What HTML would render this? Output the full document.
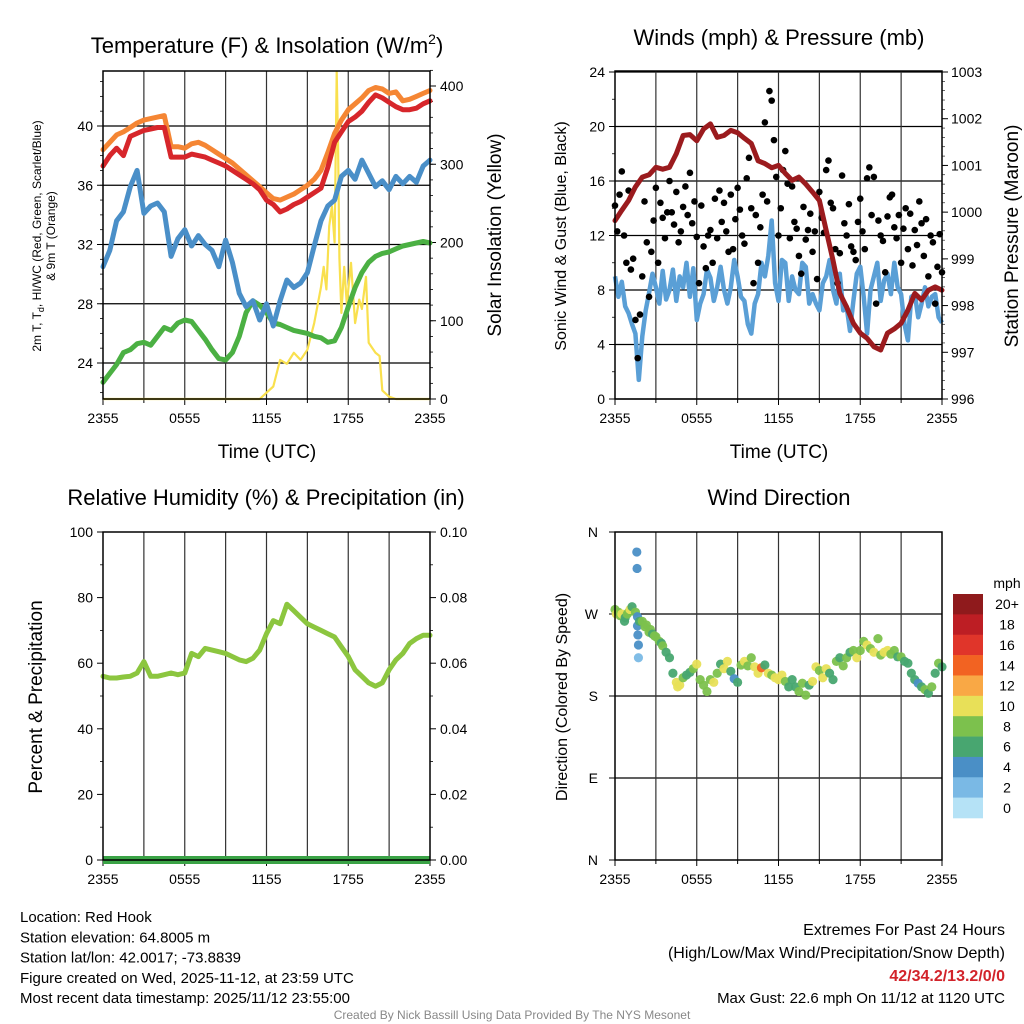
<!DOCTYPE html>
<html><head><meta charset="utf-8"><style>
body{margin:0;background:#fff}
svg{display:block;font-family:"Liberation Sans",Arial,sans-serif}
</style></head><body>
<svg id="c" width="1024" height="1024" viewBox="0 0 1024 1024" xmlns="http://www.w3.org/2000/svg">
<rect width="1024" height="1024" fill="#fff"/>
</svg>
<script>
// ---------- data ----------
const xTickLabels = ["2355","0555","1155","1755","2355"];
const tempTicks = [24,28,32,36,40];
const solarTicks = [0,100,200,300,400];
const tempOrange = [38.4,38.9,39.4,39.6,39.9,40.2,40.4,40.5,40.6,40.7,38.6,38.6,38.5,38.8,38.9,38.7,38.4,38.1,37.8,37.5,37.1,36.7,36.3,35.9,35.5,35.1,35.0,35.2,35.4,35.7,36.0,36.4,37.0,38.2,39.5,40.4,41.1,41.5,41.9,42.4,42.6,42.5,42.2,42.3,41.7,41.8,42.0,42.2,42.4];
const tempRed = [37.3,38.0,38.5,38.0,39.3,39.5,39.7,39.8,39.9,39.9,37.9,37.9,37.9,38.1,38.0,37.9,37.7,37.5,37.3,37.0,36.7,36.4,36.1,35.7,35.0,34.7,34.2,34.4,34.7,34.9,35.2,35.5,35.8,37.2,38.9,39.6,40.3,40.6,41.0,41.6,42.1,41.9,41.6,41.3,41.1,41.1,41.2,41.5,41.7];
const tempBlue = [30.5,31.6,33.6,34.2,35.9,37.0,34.1,34.6,34.8,34.2,31.2,32.4,33.0,31.9,32.6,32.0,31.6,30.5,32.3,30.8,28.7,27.8,28.2,26.9,28.0,26.5,28.2,29.6,29.1,29.4,30.1,31.9,33.6,34.6,35.0,36.6,37.0,36.4,37.7,36.8,35.9,36.3,35.7,36.6,36.1,36.6,36.2,37.3,37.7];
const tempGreen = [22.7,23.3,23.9,24.7,24.9,25.3,25.4,25.2,25.8,26.4,26.2,26.7,26.9,26.8,26.2,25.6,24.9,24.3,24.2,24.7,25.8,27.4,28.2,27.9,27.4,26.7,26.6,26.4,26.2,26.1,26.0,25.8,25.7,25.4,25.5,26.4,27.8,29.1,30.1,30.8,31.2,31.4,31.5,31.7,31.9,32.0,32.1,32.2,32.1];
const solarHours = [0,11.5,12,12.5,13,13.5,14,14.5,15,15.5,16,16.2,16.4,16.6,16.8,17,17.15,17.25,17.35,17.5,17.7,17.9,18,18.2,18.5,18.8,19,19.3,19.5,20,20.3,20.5,21,21.5,24];
const solarValues = [0,0,8,16,50,45,59,50,63,97,143,169,140,221,246,200,418,330,180,110,169,120,140,174,97,127,115,156,72,59,55,11,3,0,0];

const windTicks = [0,4,8,12,16,20,24];
const presTicks = [996,997,998,999,1000,1001,1002,1003];
const pressure = [999.82,1000.04,1000.25,1000.54,1000.75,1000.8,1000.96,1000.92,1000.96,1001.25,1001.64,1001.66,1001.53,1001.78,1001.89,1001.6,1001.64,1001.75,1001.7,1001.58,1001.47,1001.1,1001.04,1000.95,1001.0,1000.83,1000.68,1000.75,1000.6,1000.43,1000.25,999.61,998.97,998.26,997.97,997.62,997.41,997.3,997.12,997.05,997.41,997.5,997.62,997.9,998.26,998.12,998.33,998.4,998.33];
const windSpeed = [9.0,7.5,8.6,6.8,6.3,5.5,4.8,1.4,4.6,6.5,7.8,9.2,8.2,7.0,9.4,7.3,8.0,9.5,7.2,9.0,8.2,10.0,7.5,9.6,5.8,7.0,7.7,9.5,8.9,7.2,8.2,9.7,8.0,7.0,8.2,10.2,9.0,7.5,7.2,5.5,4.8,7.0,7.7,10.0,9.0,10.5,13.1,8.5,7.2,10.2,10.0,7.2,9.0,8.0,7.7,10.0,9.7,7.0,7.7,7.0,6.5,8.5,9.0,10.2,8.0,7.0,9.2,6.5,6.8,5.0,7.2,9.2,9.7,7.5,4.8,8.0,9.0,10.0,7.2,8.7,9.2,7.7,10.0,8.2,7.7,5.5,4.3,7.5,7.7,6.0,7.0,8.2,6.8,7.5,7.7,6.0,5.6];
const windGust = [14.2,12.3,15.0,16.7,12.0,10.0, 15.3,9.5,10.3,5.8,3.0,6.2, 9.0,14.5,11.5,7.5,10.8,13.1, 15.5,10.0,14.4,13.3,11.8,13.7, 16.0,13.7,12.8,15.2,11.5,12.3, 14.1,15.6,13.5,16.6,12.9,14.5, 11.9,8.5,14.2,11.2,9.6,12.0, 12.4,10.0,14.7,11.8,15.3,13.0, 14.4,12.3,10.8,15.0,11.0,13.2, 15.5,13.9,12.0,11.4,16.2,17.7, 14.0,8.5,13.5,10.0,12.6,15.0, 20.3,14.5,22.6,21.9,19.0,16.3, 12.0,14.0,16.8,18.2,15.8,11.8, 15.6,13.0,12.5,10.5,9.2,14.1, 11.7,12.4,13.6,10.8,12.3,8.8, 15.2,13.3,12.2,16.8,17.5,14.4, 14.0,11.0,8.5,10.7,16.4,12.9, 12.0,14.3,11.2,10.8,10.2,13.0, 14.7,12.3,11.0,16.2,17.0,13.5, 16.3,7.0,13.1,12.0,11.6,9.3, 13.4,14.8,15.0,12.6,11.8,13.5, 10.0,12.5,14.0,11.0,13.6,9.8, 12.4,11.3,14.5,12.9,10.5,13.2, 9.0,12.0,11.5,7.0,9.7,12.1, 9.3];

const rhTicks = [0,20,40,60,80,100];
const precipTicks = ["0.00","0.02","0.04","0.06","0.08","0.10"];
const rhValues = [56,55.5,55.5,55.8,56,57,60.5,56,56,56.5,57,56.5,57,63,62,64.5,64,63.5,63,62,61,60.5,61.5,64,69,73,72,78,76,74,72,71,70,69,68,65,62,58,56,54,53,54,58,61,63,66,67.5,68.5,68.5];
const precipValues = [0,0,0,0,0,0,0,0,0,0,0,0,0];

const dirLabels = ["N","E","S","W","N"];
const dirHours = [0,0.1,0.25,0.4,0.5,0.7,0.75,0.9,1.0,1.1,1.25,1.5,1.6,1.62,1.65,1.65,1.68,1.72,1.72,1.8,2.0,2.2,2.3,2.5,2.6,2.75,2.9,3.0,3.25,3.4,3.5,3.75,4.0,4.25,4.5,4.6,4.75,5.0,5.25,5.5,5.75,6.0,6.25,6.5,6.75,7.0,7.25,7.5,7.75,8.0,8.25,8.5,8.75,9.0,9.25,9.5,9.75,10.0,10.25,10.5,10.75,11.0,11.25,11.5,11.75,12.0,12.25,12.5,12.75,13.0,13.25,13.5,13.75,14.0,14.25,14.5,14.75,15.0,15.25,15.5,15.75,16.0,16.25,16.5,16.75,17.0,17.25,17.5,17.75,18.0,18.25,18.5,18.75,19.0,19.3,19.5,19.75,20.0,20.25,20.5,20.75,21.0,21.25,21.5,21.75,22.0,22.25,22.5,22.75,23.0,23.25,23.5,23.75,24.0];
const dirValues = [275,270,272,268,270,262,266,270,272,275,278,272,338,320,267,257,247,236,222,262,262,256,258,250,253,248,246,245,240,238,235,228,222,205,195,190,192,200,203,206,210,215,198,192,185,198,195,205,215,210,218,207,199,195,214,218,213,222,212,205,211,214,205,203,200,198,203,196,190,198,190,185,194,181,192,196,212,208,200,210,205,198,218,222,213,222,228,230,222,230,240,236,232,228,243,225,228,230,226,230,223,223,218,216,205,198,194,190,187,183,190,205,216,212,200,190,186,205,216];
const dirSpeeds = [8,10,8,7,10,6,5,8,7,9,6,7,3,3,3,4,3,3,1,5,7,8,8,8,7,6,8,8,8,6,7,6,6,6,10,10,10,8,6,6,7,10,8,8,8,8,10,8,6,10,10,6,4,6,8,10,8,8,10,10,13,6,10,8,10,10,10,8,6,6,6,8,8,8,6,10,10,8,10,10,6,6,8,6,7,8,6,8,10,8,8,10,8,10,8,8,10,10,8,8,6,8,6,6,6,6,4,6,7,6,8,6,7,6,8,6,6,7,6];

// ---------- helpers ----------
const svg = document.getElementById('c');
const NS = "http://www.w3.org/2000/svg";
function mk(tag, attrs, parent){
  const e = document.createElementNS(NS, tag);
  for (const k in attrs) e.setAttribute(k, attrs[k]);
  (parent||svg).appendChild(e);
  return e;
}
function txt(x,y,s,size,opts,parent){
  opts = opts||{};
  const t = mk('text',{x:x,y:y,'font-size':size,'text-anchor':opts.anchor||'middle',fill:opts.fill||'#000'},parent);
  if(opts.weight) t.setAttribute('font-weight',opts.weight);
  if(opts.rot) t.setAttribute('transform','rotate('+opts.rot+' '+x+' '+y+')');
  t.textContent = s;
  return t;
}
function scale(d0,d1,r0,r1){ return v => r0 + (v-d0)*(r1-r0)/(d1-d0); }
function lineFromArrays(xs, ys, xf, yf){
  return xs.map((x,i)=>(i?'L':'M')+xf(x).toFixed(1)+' '+yf(ys[i]).toFixed(1)).join(' ');
}
function evenHours(arr){ const n=arr.length; return arr.map((_,i)=>i*24/(n-1)); }

function panelFrame(name){
  const g = mk('g',{});
  
  
  return g;
}
function xAxis(g, L,R,B, xf, vgrid){
  for(let h=3; h<24; h+=3){
    const l = mk('line',{x1:xf(h),x2:xf(h),y1:vgrid[0],y2:vgrid[1],stroke:'#333','stroke-width':1.2},g);
    
    
  }
  for(let i=0;i<xTickLabels.length;i++){
    const h = i*6, x = xf(h);
    mk('line',{x1:x,x2:x,y1:B,y2:B+6,stroke:'#000','stroke-width':1},g);
    const t = txt(x,B+24,xTickLabels[i],14,{},g);
    
    
  }
  for(let h=3;h<24;h+=6){ mk('line',{x1:xf(h),x2:xf(h),y1:B,y2:B+4,stroke:'#000'},g); }
}

// ================= Panel 1: Temperature =================
{
  const L=103,R=430,T=71,B=399;
  const g = panelFrame('temperature-panel');
  const xf = scale(0,24,L,R);
  const yT = scale(24,40,363,126);
  const yS = scale(0,400,399,86);
  tempTicks.forEach(v=>{
    mk('line',{x1:L,x2:R,y1:yT(v),y2:yT(v),stroke:'#000','stroke-width':1.2},g);
    mk('line',{x1:L-6,x2:L,y1:yT(v),y2:yT(v),stroke:'#000'},g);
    const t=txt(L-10,yT(v)+5,String(v),14,{anchor:'end'},g);
    
    
  });
  for(let v=22; v<44; v+=1){ mk('line',{x1:L-3,x2:L,y1:yT(v),y2:yT(v),stroke:'#000','stroke-width':0.8},g); }
  solarTicks.forEach(v=>{
    mk('line',{x1:R,x2:R+6,y1:yS(v),y2:yS(v),stroke:'#000'},g);
    const t=txt(R+10,yS(v)+5,String(v),14,{anchor:'start'},g);
    
    
  });
  for(let v=0; v<=420; v+=20){ mk('line',{x1:R,x2:R+3,y1:yS(v),y2:yS(v),stroke:'#000','stroke-width':0.8},g); }
  xAxis(g,L,R,B,xf,[T,B]);
  const s1 = mk('path',{d:lineFromArrays(solarHours,solarValues,xf,yS),fill:'none',stroke:'#f9e04e','stroke-width':2.2,'stroke-linejoin':'round'},g);
  
  
  const series = [[tempGreen,'#4bb043','dewpoint-line'],[tempBlue,'#4a8fc8','wind-chill-line'],[tempOrange,'#f58634','temp-9m-line'],[tempRed,'#d7262b','temp-2m-line']];
  series.forEach(([arr,col,nm])=>{
    const p = mk('path',{d:lineFromArrays(evenHours(arr),arr,xf,yT),fill:'none',stroke:col,'stroke-width':5,'stroke-linejoin':'round','stroke-linecap':'round'},g);
    
    
  });
  mk('rect',{x:L,y:T,width:R-L,height:B-T,fill:'none',stroke:'#000','stroke-width':1.5},g);
  const tt = mk('text',{x:267,y:53,'font-size':22,'text-anchor':'middle'},g);
  tt.innerHTML = 'Temperature (F) &amp; Insolation (W/m<tspan dy="-9" font-size="14">2</tspan><tspan dy="9">)</tspan>';
  
  
  const yt1 = mk('text',{x:41,y:236,'font-size':12,'text-anchor':'middle',transform:'rotate(-90 41 236)'},g);
  yt1.innerHTML = '2m T, T<tspan dy="3" font-size="9">d</tspan><tspan dy="-3">, HI/WC (Red, Green, Scarlet/Blue)</tspan>';
  
  
  txt(55,236,'& 9m T (Orange)',12,{rot:-90},g);
  const yt2 = txt(501,235,'Solar Insolation (Yellow)',19,{rot:-90},g);
  
  
  const xt = txt(267,458,'Time (UTC)',19,{},g);
  
  
}

// ================= Panel 2: Winds & Pressure =================
{
  const L=615,R=942,T=71,B=399;
  const g = panelFrame('wind-pressure-panel');
  const xf = scale(0,24,L,R);
  const yW = scale(0,24,399,72);
  const yP = scale(996,1003,399,72);
  windTicks.forEach(v=>{
    mk('line',{x1:L,x2:R,y1:yW(v),y2:yW(v),stroke:'#000','stroke-width':1.2},g);
    mk('line',{x1:L-6,x2:L,y1:yW(v),y2:yW(v),stroke:'#000'},g);
    const t=txt(L-10,yW(v)+5,String(v),14,{anchor:'end'},g);
    
    
  });
  for(let v=2; v<24; v+=4){ mk('line',{x1:L-3,x2:L,y1:yW(v),y2:yW(v),stroke:'#000','stroke-width':0.8},g); }
  presTicks.forEach(v=>{
    mk('line',{x1:R,x2:R+6,y1:yP(v),y2:yP(v),stroke:'#000'},g);
    const t=txt(R+9,yP(v)+5,String(v),14,{anchor:'start'},g);
    
    
  });
  for(let v=996; v<1003; v+=0.2){ mk('line',{x1:R,x2:R+3,y1:yP(v),y2:yP(v),stroke:'#000','stroke-width':0.6},g); }
  xAxis(g,L,R,B,xf,[T,B]);
  const wp = mk('path',{d:lineFromArrays(evenHours(windSpeed),windSpeed,xf,yW),fill:'none',stroke:'#5a9fd6','stroke-width':4.5,'stroke-linejoin':'round'},g);
  
  
  const gh = evenHours(windGust);
  windGust.forEach((v,i)=>{
    const c = mk('circle',{cx:xf(gh[i]),cy:yW(v),r:3.3,fill:'#000'},g);
    
    
  });
  const pp = mk('path',{d:lineFromArrays(evenHours(pressure),pressure,xf,yP),fill:'none',stroke:'#9b1b1e','stroke-width':5,'stroke-linejoin':'round','stroke-linecap':'round'},g);
  
  
  mk('rect',{x:L,y:T,width:R-L,height:B-T,fill:'none',stroke:'#000','stroke-width':1.5},g);
  const tt = txt(779,45,'Winds (mph) & Pressure (mb)',22,{},g);
  
  
  const y1 = txt(566,236,'Sonic Wind & Gust (Blue, Black)',16,{rot:-90},g);
  
  
  const y2 = txt(1018,236,'Station Pressure (Maroon)',19,{rot:-90},g);
  
  
  const xt = txt(779,458,'Time (UTC)',19,{},g);
  
  
}

// ================= Panel 3: RH & Precip =================
{
  const L=103,R=430,T=532,B=860;
  const g = panelFrame('humidity-precip-panel');
  const xf = scale(0,24,L,R);
  const yR = scale(0,100,860,532);
  rhTicks.forEach((v,i)=>{
    mk('line',{x1:L-6,x2:L,y1:yR(v),y2:yR(v),stroke:'#000'},g);
    const t=txt(L-10,yR(v)+5,String(v),14,{anchor:'end'},g);
    
    
    mk('line',{x1:R,x2:R+6,y1:yR(v),y2:yR(v),stroke:'#000'},g);
    const t2=txt(R+10,yR(v)+5,precipTicks[i],14,{anchor:'start'},g);
    
    
  });
  for(let v=10; v<100; v+=20){ mk('line',{x1:L-3,x2:L,y1:yR(v),y2:yR(v),stroke:'#000','stroke-width':0.8},g); mk('line',{x1:R,x2:R+3,y1:yR(v),y2:yR(v),stroke:'#000','stroke-width':0.8},g); }
  xAxis(g,L,R,B,xf,[T,B]);
  const rp = mk('path',{d:lineFromArrays(evenHours(rhValues),rhValues,xf,yR),fill:'none',stroke:'#8cc63f','stroke-width':5,'stroke-linejoin':'round','stroke-linecap':'round'},g);
  
  
  const yPr = scale(0,0.1,860,532);
  const pr = mk('path',{d:lineFromArrays(evenHours(precipValues),precipValues,xf,yPr),fill:'none',stroke:'#3aa346','stroke-width':8},g);
  
  
  mk('rect',{x:L,y:T,width:R-L,height:B-T,fill:'none',stroke:'#000','stroke-width':1.5},g);
  const tt = txt(266,505,'Relative Humidity (%) & Precipitation (in)',22,{},g);
  
  
  const yt = txt(42,697,'Percent & Precipitation',19,{rot:-90},g);
  
  
}

// ================= Panel 4: Wind Direction =================
const speedColors = ['#b5e2f6','#7ab9e5','#4a8fc6','#48a670','#7cc14d','#e8e058','#f9a845','#f26322','#e0352a','#bd1e24','#8f1a1c'];
const speedLabels = ['0','2','4','6','8','10','12','14','16','18','20+'];
{
  const L=615,R=942,T=532,B=860;
  const g = panelFrame('wind-direction-panel');
  const xf = scale(0,24,L,R);
  const yD = scale(0,360,860,532);
  dirLabels.forEach((s,i)=>{
    const v=i*90;
    if(i>0&&i<4) mk('line',{x1:L,x2:R,y1:yD(v),y2:yD(v),stroke:'#000','stroke-width':1.2},g);
    mk('line',{x1:L-6,x2:L,y1:yD(v),y2:yD(v),stroke:'#000'},g);
    const t=txt(L-17,yD(v)+5,s,14,{anchor:'end'},g);
    
    
  });
  xAxis(g,L,R,B,xf,[T,B]);
  const nPts = Math.min(dirHours.length, dirValues.length, dirSpeeds.length);
  for(let i=0;i<nPts;i++){
    const sp = dirSpeeds[i];
    const bin = Math.min(10, Math.max(0, Math.round(sp/2)));
    const c = mk('circle',{cx:xf(dirHours[i]),cy:yD(dirValues[i]),r:4.6,fill:speedColors[bin],'fill-opacity':0.95},g);
    
    
  }
  mk('rect',{x:L,y:T,width:R-L,height:B-T,fill:'none',stroke:'#000','stroke-width':1.5},g);
  const tt = txt(779,505,'Wind Direction',22,{},g);
  
  
  const yt = txt(567,697,'Direction (Colored By Speed)',16,{rot:-90},g);
  
  
  const cb = mk('g',{});
  
  
  const top=594, bh=(818-594)/11;
  txt(1007,588,'mph',14,{},cb);
  for(let i=0;i<11;i++){
    const idx = 10-i;
    mk('rect',{x:953,y:top+i*bh,width:30,height:bh+0.3,fill:speedColors[idx]},cb);
    const t = txt(1007,top+i*bh+bh/2+5,speedLabels[idx],14,{},cb);
    
    
  }
}

// ================= Footer =================
{
  const g = mk('g',{});
  
  
  const lines = ['Location: Red Hook','Station elevation: 64.8005 m','Station lat/lon: 42.0017; -73.8839','Figure created on Wed, 2025-11-12, at 23:59 UTC','Most recent data timestamp: 2025/11/12 23:55:00'];
  lines.forEach((s,i)=>txt(20,922+i*20.3,s,15,{anchor:'start'},g));
  const g2 = mk('g',{});
  
  
  txt(1005,935,'Extremes For Past 24 Hours',16,{anchor:'end'},g2);
  txt(1005,958,'(High/Low/Max Wind/Precipitation/Snow Depth)',16,{anchor:'end'},g2);
  txt(1005,981,'42/34.2/13.2/0/0',16,{anchor:'end',fill:'#d2232a',weight:'bold'},g2);
  txt(1005,1003,'Max Gust: 22.6 mph On 11/12 at 1120 UTC',15,{anchor:'end'},g2);
  const cr = txt(512,1019,'Created By Nick Bassill Using Data Provided By The NYS Mesonet',12,{fill:'#888'});
  
  
}
</script>
</body></html>
